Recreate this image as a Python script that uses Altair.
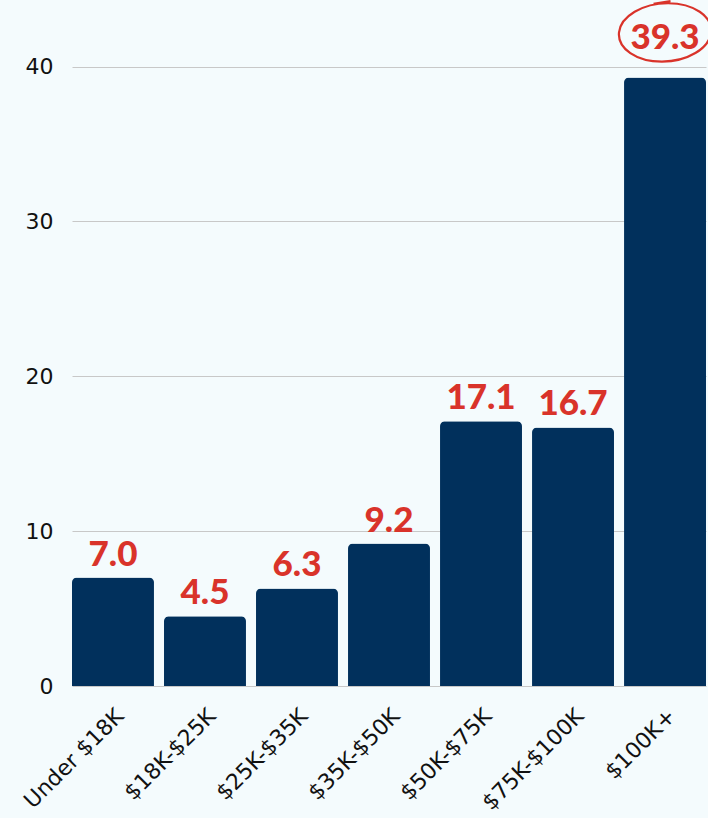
import altair as alt
import pandas as pd

categories = ["Under $18K", "$18K-$25K", "$25K-$35K", "$35K-$50K", "$50K-$75K", "$75K-$100K", "$100K+"]
values = [7.0, 4.5, 6.3, 9.2, 17.1, 16.7, 39.3]
highlight = ["$100K+"]

df = pd.DataFrame({"cat": categories, "val": values})
df["label"] = df["val"].map(lambda v: f"{v:.1f}")

is_hl = alt.FieldOneOfPredicate(field="cat", oneOf=highlight)

x = alt.X("cat:N", sort=categories, title=None,
          scale=alt.Scale(paddingInner=0.109, paddingOuter=0),
          axis=alt.Axis(labelAngle=-45, labelFontSize=22, labelFont="DejaVu Sans",
                        labelColor="#111111", ticks=False, domain=False, labelPadding=19))
y = alt.Y("val:Q", title=None,
          scale=alt.Scale(domain=[0, 44.3], nice=False),
          axis=alt.Axis(values=[0, 10, 20, 30, 40], labelFontSize=22, labelFont="DejaVu Sans",
                        labelColor="#111111", ticks=False, domain=False, labelPadding=19,
                        gridColor="#c8c8c8", gridWidth=1))

bars = alt.Chart(df).mark_bar(color="#01305c", cornerRadiusTopLeft=5, cornerRadiusTopRight=5).encode(x=x, y=y)

text_style = dict(font="Lato", fontWeight=900, fontSize=35, color="#d9332a", baseline="alphabetic")
enc = dict(x=alt.X("cat:N", sort=categories), y="val:Q", text="label:N")

text = alt.Chart(df).transform_filter(~is_hl).mark_text(dy=-12, **text_style).encode(**enc)
text_hl = alt.Chart(df).transform_filter(is_hl).mark_text(dy=-28, **text_style).encode(**enc)

circle = alt.Chart(df).transform_filter(is_hl).mark_point(
    shape="M -1 0 A 1 0.63 -4 1 0 1 0 A 1 0.63 -4 1 0 -1 0 M -0.25 -0.62 L 0.12 -0.68",
    filled=False, stroke="#d9332a", strokeWidth=2.2, opacity=1, size=8464, yOffset=-45
).encode(x=alt.X("cat:N", sort=categories), y="val:Q")

chart = (bars + text + text_hl + circle).properties(
    width=634, height=686,
    background="#f4fbfd",
    padding={"left": 72, "top": 0, "right": 2, "bottom": 132},
    autosize=alt.AutoSizeParams(type="none"),
).configure_view(stroke=None)

chart.save("out.html", embed_options={"renderer": "svg", "actions": False})
